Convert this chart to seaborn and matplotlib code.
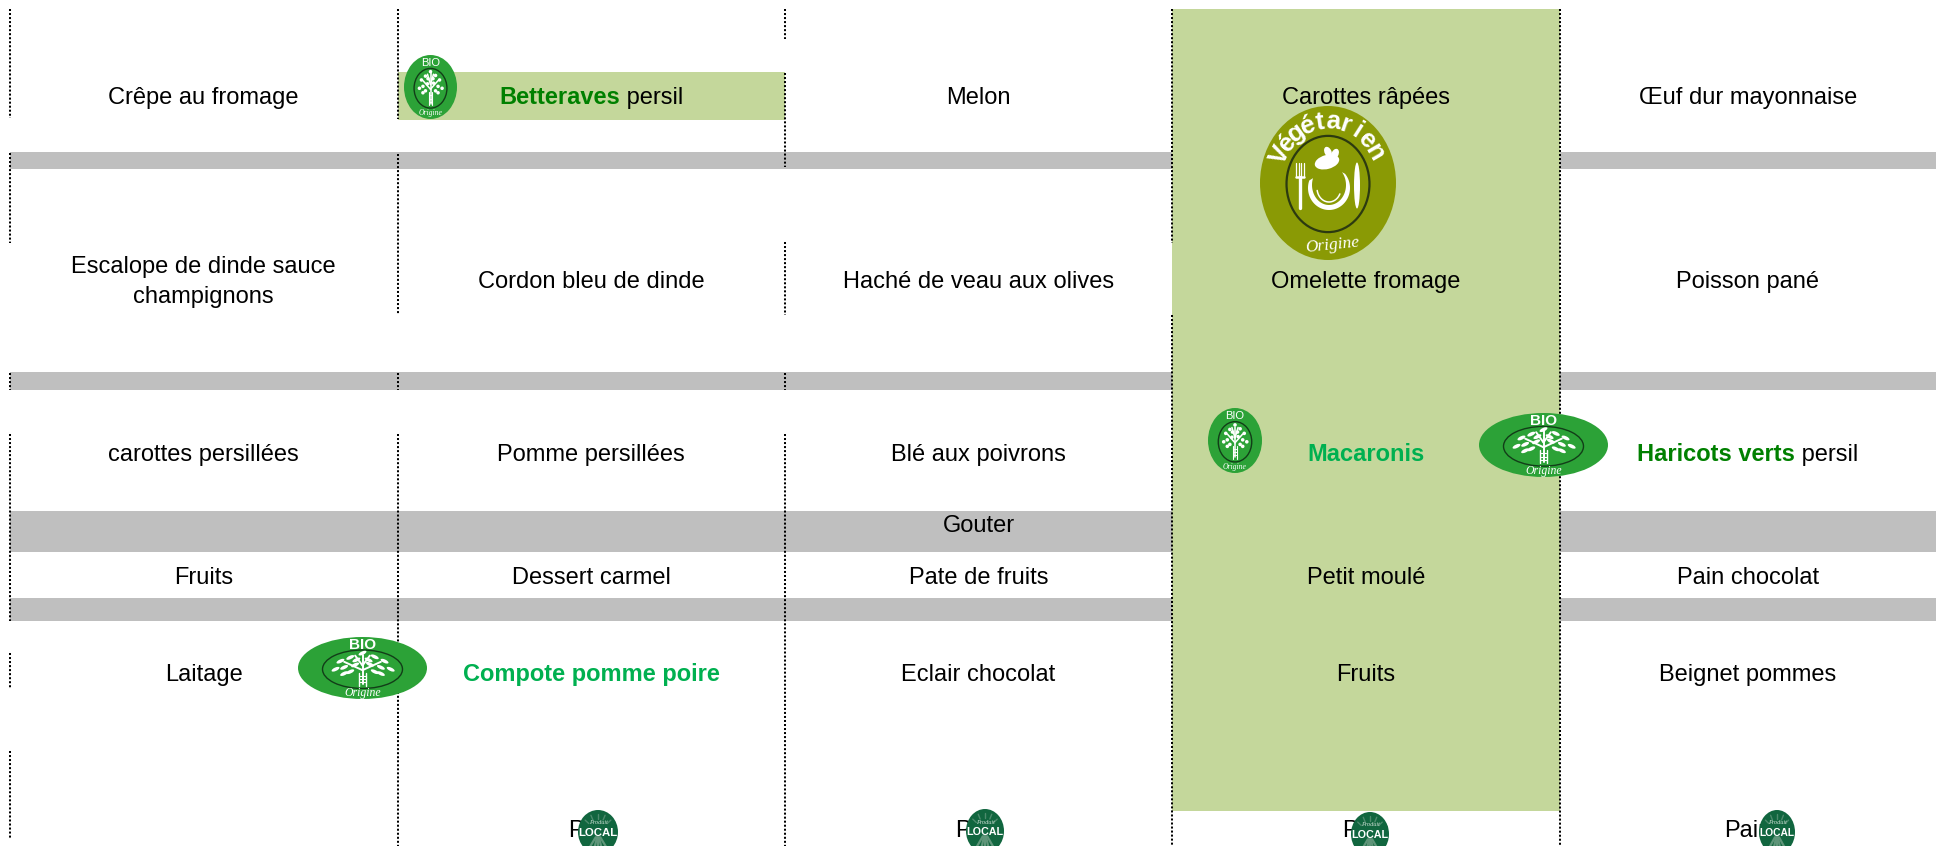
import numpy as np
import pandas as pd
import matplotlib
matplotlib.use("Agg")
import matplotlib.pyplot as plt
from matplotlib.patches import Ellipse, Rectangle, Polygon
import seaborn as sns

# ---------- content ----------
row1 = ["Crêpe au fromage", [("Betteraves", "dark"), (" persil", None)], "Melon", "Carottes râpées", "Œuf dur mayonnaise"]
row2 = ["Escalope de dinde sauce\nchampignons", "Cordon bleu de dinde", "Haché de veau aux olives", "Omelette fromage", "Poisson pané"]
row3 = ["carottes persillées", "Pomme persillées", "Blé aux poivrons", [("Macaronis", "bright")], [("Haricots verts", "dark"), (" persil", None)]]
row4 = ["Fruits", "Dessert carmel", "Pate de fruits", "Petit moulé", "Pain chocolat"]
row5 = ["Laitage", [("Compote pomme poire", "bright")], "Eclair chocolat", "Fruits", "Beignet pommes"]
row6 = ["", "Pain", "Pain", "Pain", "Pain"]
band_label = "Gouter"

# ---------- layout (pixels of a 1936x846 page) ----------
col_edges = [10, 397.5, 785, 1172, 1560, 1936]
row_centres = [98, 282, 454.5, 578, 675, 831]
bands = [(152, 169), (372, 390), (511, 552), (598, 621)]
band_text_y = 526.5
veg_col = (1172, 1560, 9, 811)
beet_cell = (397.5, 785, 72, 120)
dotted = {
    10: [(9, 118), (153, 243), (373, 390), (434, 621), (653, 689), (751, 838)],
    397.5: [(9, 119), (154, 315), (373, 390), (434, 846)],
    785: [(9, 39), (73, 167), (242, 315), (373, 390), (434, 846)],
    1172: [(9, 243), (315, 846)],
    1560: [(9, 846)],
}
FS = 17
BLACK = "#000000"
TEXT_GREENS = {"dark": "#008000", "bright": "#00B050", None: BLACK}
FILL_GREEN = "#C4D79B"
GREY = "#BFBFBF"
BIO_GREEN = "#2CA237"
VEG_GREEN = "#8A9A05"
LOCAL_GREEN = "#11663F"
FONT = "Liberation Sans"

sns.set_theme(style="white", rc={"font.family": FONT, "axes.grid": False})
fig = plt.figure(figsize=(19.36, 8.46), dpi=100, facecolor="white")
ax = fig.add_axes([0, 0, 1, 1])

# grey bands and green fills
for top, bottom in bands:
    ax.add_patch(Rectangle((col_edges[0], top), 1936 - col_edges[0], bottom - top, fc=GREY, ec="none", zorder=1))
x0, x1, y0, y1 = veg_col
ax.add_patch(Rectangle((x0, y0), x1 - x0, y1 - y0, fc=FILL_GREEN, ec="none", zorder=2))
x0, x1, y0, y1 = beet_cell
ax.add_patch(Rectangle((x0, y0), x1 - x0, y1 - y0, fc=FILL_GREEN, ec="none", zorder=2))

# dotted column separators
recs = []
for x, segs in dotted.items():
    for i, (a, b) in enumerate(segs):
        recs += [dict(x=x, y=a, seg=f"{x}-{i}"), dict(x=x, y=b, seg=f"{x}-{i}")]
sns.lineplot(data=pd.DataFrame(recs), x="x", y="y", units="seg", estimator=None, sort=False,
             color="black", linewidth=1.45, linestyle=(0, (1, 1)), ax=ax, zorder=3)

ax.set_xlim(0, 1936)
ax.set_ylim(846, 0)
ax.axis("off")

# cell text
centres = [(col_edges[i] + col_edges[i + 1]) / 2 for i in range(5)]
rend = fig.canvas.get_renderer()


def cell(xc, yc, content):
    if isinstance(content, str):
        ax.text(xc, yc, content, ha="center", va="center", fontsize=FS, color=BLACK, zorder=4,
                family=FONT, linespacing=1.5)
        return
    items = []
    total = 0
    for s, col in content:
        t = ax.text(0, yc, s.replace(" ", "\u00a0"), ha="left", va="center", fontsize=FS, zorder=4, family=FONT,
                    color=TEXT_GREENS[col], fontweight="bold" if col else "normal")
        w = t.get_window_extent(rend).width
        items.append((t, w))
        total += w
    x = xc - total / 2
    for t, w in items:
        t.set_x(x)
        x += w


for yc, row in zip(row_centres, [row1, row2, row3, row4, row5, row6]):
    for xc, content in zip(centres, row):
        if content:
            cell(xc, yc, content)
ax.text(centres[2], band_text_y, band_label, ha="center", va="center", fontsize=FS, color=BLACK, zorder=4, family=FONT)


# ---------- badges ----------
def tree(cx, cy, w, h):
    sx, sy = w / 2, h / 2
    P = lambda u, v: (cx + u * sx, cy + v * sy)
    lw = 1.0 if w > 90 else 0.8
    branches = [((0, 0.5), (0, -0.45)), ((0, 0.05), (-0.3, -0.22)), ((0, 0.05), (0.3, -0.22)),
                ((0, -0.1), (-0.12, -0.42)), ((0, -0.1), (0.12, -0.42))]
    for a, b in branches:
        (x_a, y_a), (x_b, y_b) = P(*a), P(*b)
        ax.plot([x_a, x_b], [y_a, y_b], color="white", lw=lw * 1.4, zorder=7, solid_capstyle="round")
    for u in (-0.06, 0.06):
        (x_a, y_a), (x_b, y_b) = P(u, 0.15), P(u, 0.55)
        ax.plot([x_a, x_b], [y_a, y_b], color="white", lw=lw, zorder=7)
    for v in (0.24, 0.34, 0.44):
        (x_a, y_a), (x_b, y_b) = P(-0.06, v), P(0.06, v)
        ax.plot([x_a, x_b], [y_a, y_b], color="white", lw=lw * 0.8, zorder=7)
    leaves = [(-0.36, -0.24), (-0.2, -0.36), (-0.12, -0.12), (-0.3, -0.04), (-0.44, 0.02), (-0.2, 0.1),
              (0.36, -0.24), (0.2, -0.38), (0.12, -0.14), (0.3, -0.04), (0.46, 0.02), (0.2, 0.1),
              (0.0, -0.5), (-0.1, -0.28), (0.1, -0.28), (-0.3, 0.16), (0.3, 0.16)]
    for u, v in leaves:
        ax.add_patch(Ellipse(P(u, v), sx * 0.14, sy * 0.11, angle=25 if u > 0 else -25, fc="white", ec="none", zorder=7))


def bio(cx, cy, w, h):
    ax.add_patch(Ellipse((cx, cy), w, h, fc=BIO_GREEN, ec="none", zorder=6))
    ax.add_patch(Ellipse((cx, cy + 0.02 * h), w * 0.62, h * 0.62, fc="none", ec="#123D18", lw=1.0, zorder=7))
    wide = w > 90
    tree(cx, cy + 0.01 * h, w * 0.95, h * 1.0)
    ax.text(cx, cy - h * 0.375, "BIO", ha="center", va="center", color="white", fontsize=11 if wide else 8,
            fontweight="bold" if wide else "normal", family=FONT, zorder=7)
    ax.text(cx, cy + h * 0.405, "Origine", ha="center", va="center", color="white", fontsize=8.5 if wide else 5.5,
            style="italic", family="Liberation Serif", zorder=7)


def vegetarian(cx, cy, w, h):
    ax.add_patch(Ellipse((cx, cy), w, h, fc=VEG_GREEN, ec="none", zorder=6))
    ax.add_patch(Ellipse((cx, cy + 1), w * 0.61, h * 0.625, fc="none", ec="#2C3A10", lw=1.6, zorder=7))
    # curved title
    word = "Végétarien"
    angles = np.radians(np.linspace(-153, -30, len(word)))
    for ch, a in zip(word, angles):
        px = cx + 0.395 * w * np.cos(a)
        py = cy + 0.40 * h * np.sin(a)
        rot = -np.degrees(a) - 90
        ax.text(px, py, ch, ha="center", va="center", rotation=rot, rotation_mode="anchor", color="white",
                fontsize=18.5, fontweight="bold", family=FONT, zorder=7)
    ax.text(cx + 4, cy + 62, "Origine", ha="center", va="center", color="white", fontsize=12.5, rotation=6,
            style="italic", family="Liberation Serif", zorder=7)
    # fork
    fx = cx - 28
    ax.plot([fx, fx], [cy - 6, cy + 25], color="white", lw=2.4, zorder=7)
    for du in (-3.6, -1.2, 1.2, 3.6):
        ax.plot([fx + du, fx + du], [cy - 20, cy - 6], color="white", lw=0.9, zorder=7)
    ax.plot([fx - 3.9, fx + 3.9], [cy - 6, cy - 6], color="white", lw=1.8, zorder=7)
    # knife
    ax.add_patch(Ellipse((cx + 29, cy + 2.5), 6, 46, fc="white", ec="none", zorder=7))
    # plate crescent
    a = np.radians(np.linspace(-40, 200, 60))
    outer = np.c_[cx + 1 + 21 * np.cos(a), cy + 5 + 22 * np.sin(a)]
    inner = np.c_[cx + 1 + 17 * np.cos(a[::-1]), cy + 2 + 20 * np.sin(a[::-1])]
    ax.add_patch(Polygon(np.r_[outer, inner], fc="white", ec="none", zorder=7))
    a2 = np.radians(np.linspace(25, 170, 30))
    ax.plot(cx + 1 + 12 * np.cos(a2), cy + 5 + 14 * np.sin(a2), color="white", lw=1.1, zorder=7)
    # leaf
    ax.add_patch(Ellipse((cx - 1, cy - 21), 25, 14, angle=-15, fc="white", ec="none", zorder=8))
    ax.add_patch(Ellipse((cx, cy - 31), 7, 11, angle=-25, fc="white", ec="none", zorder=8))
    ax.add_patch(Ellipse((cx + 7, cy - 29), 7, 11, angle=25, fc="white", ec="none", zorder=8))


def local(cx, cy, w, h):
    ax.add_patch(Ellipse((cx, cy), w, h, fc=LOCAL_GREEN, ec="none", zorder=6))
    for a in np.radians([55, 75, 90, 105, 125]):
        ax.plot([cx + 0.1 * w * np.cos(a), cx + 0.5 * w * np.cos(a)],
                [cy + 0.12 * h, cy + 0.12 * h + 0.42 * h * np.sin(a)],
                color="#5F9579", lw=1.6, zorder=7)
    for a in np.radians([-140, -115, -90, -65, -40]):
        ax.plot([cx + 0.3 * w * np.cos(a), cx + 0.42 * w * np.cos(a)],
                [cy + 0.3 * h * np.sin(a), cy + 0.42 * h * np.sin(a)],
                color="#4C8A6C", lw=1.0, zorder=7)
    ax.text(cx, cy - 9, "Produit", ha="center", va="center", color="#CFE0D6", fontsize=4.5, style="italic",
            family="Liberation Serif", zorder=8)
    ax.text(cx, cy + 1, "LOCAL", ha="center", va="center", color="white", fontsize=w * 0.205, fontweight="bold",
            family=FONT, zorder=8)


bio(430.5, 87, 53, 64)
bio(362.5, 668, 129, 62)
bio(1235, 440.5, 54, 65)
bio(1543.5, 445, 129, 64)
vegetarian(1328, 183, 136, 154)
for cx, cy, w, h in [(598, 832, 40, 44), (985, 831, 38, 44), (1370, 834, 38, 44), (1777, 832, 36, 44)]:
    local(cx, cy, w, h)

fig.savefig("out.png", dpi=100, facecolor="white")
